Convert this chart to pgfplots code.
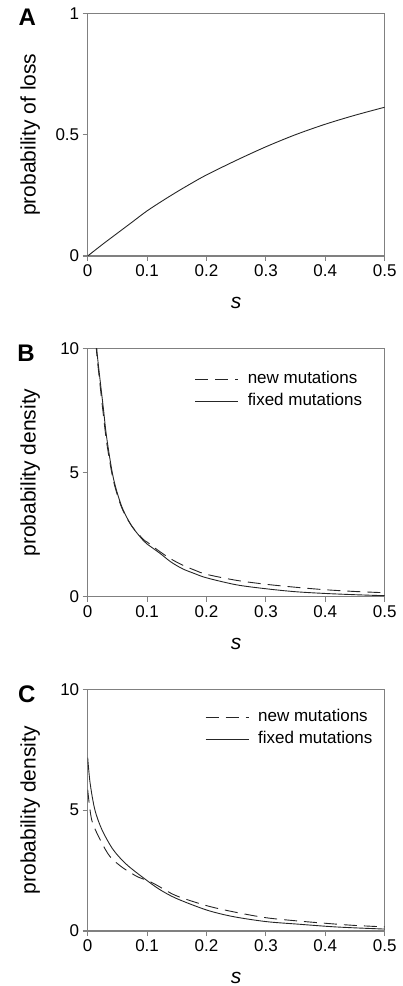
\documentclass[border=0pt]{standalone}
\usepackage{fontspec}
\setmainfont{Liberation Sans}
\usepackage{pgfplots}
\pgfplotsset{compat=1.18}

\pgfplotsset{
  panel/.style={
    scale only axis, width=297pt,
    xmin=0, xmax=0.5, ymin=0,
    clip mode=individual,
    xtick={0,0.1,0.2,0.3,0.4,0.5},
    xtick pos=left, ytick pos=left,
    tick align=outside, major tick length=5pt,
    axis line style={draw=black!50, line width=1.1pt},
    tick style={draw=black!50, line width=1.1pt},
    tick label style={font=\fontsize{17}{20}\selectfont},
    /pgf/number format/assume math mode=true,
    label style={font=\fontsize{21}{24}\selectfont},
    xlabel={\textit{s}},
    xlabel style={at={(axis description cs:0.5,0)}, anchor=center, yshift=-47pt},
    ylabel style={at={(axis description cs:0,0.5)}, anchor=center, yshift=57.5pt},
    legend cell align=left,
    legend style={draw=none, fill=none, anchor=north west,
                  font=\fontsize{17}{20}\selectfont, row sep=2pt,
                  nodes={inner sep=2pt, text height=12pt, text depth=4pt}},
    legend image code/.code={\draw[#1] (0pt,0pt) -- (43pt,0pt); \path (50pt,0pt);},
  },
}
\tikzset{
  curve/.style={black!85, line width=0.9pt, mark=none},
  newmut/.style={curve, dash pattern=on 13pt off 7pt},
  letter/.style={font=\bfseries\fontsize{24}{24}\selectfont, anchor=base},
}

\begin{document}
\begin{tikzpicture}
\path[use as bounding box] (0,0) rectangle (403pt,986pt);

% A
\begin{axis}[panel, at={(87.7pt,730pt)}, anchor=south west, height=242.7pt,
  ymax=1, ytick={0,0.5,1}, ylabel={probability of loss}]
\addplot[curve, smooth] coordinates {
  (0,0) (0.025,0.048) (0.05,0.094) (0.075,0.140) (0.1,0.186) (0.125,0.226)
  (0.15,0.264) (0.175,0.300) (0.2,0.334) (0.25,0.394) (0.3,0.450)
  (0.35,0.500) (0.4,0.543) (0.45,0.580) (0.5,0.613)};
\node[letter] at (axis description cs:-0.203,0.948) {A};
\end{axis}

% B
\begin{axis}[panel, at={(87.7pt,389.3pt)}, anchor=south west, height=248.4pt,
  ymax=10, ytick={0,5,10}, ylabel={probability density},
  legend style={at={(axis description cs:0.35,0.925)}}]
\addplot[newmut, smooth] coordinates {
  (0.0135,11) (0.0145,10) (0.02,8.7) (0.026,7.4) (0.032,6.2) (0.043,4.7)
  (0.057,3.6) (0.074,2.85) (0.094,2.3) (0.1,2.2)
  (0.12,1.84) (0.14,1.52) (0.16,1.27) (0.18,1.07) (0.2,0.90) (0.25,0.66)
  (0.3,0.50) (0.35,0.38) (0.4,0.28) (0.45,0.21) (0.5,0.16)};
\addlegendentry{new mutations}
\addplot[curve, smooth] coordinates {
  (0.0142,11) (0.0152,10) (0.02,8.9) (0.0263,7.6) (0.032,6.4) (0.043,4.8)
  (0.057,3.65) (0.074,2.85) (0.094,2.25) (0.1,2.12)
  (0.122,1.74) (0.14,1.40) (0.16,1.12) (0.18,0.93) (0.2,0.76) (0.25,0.48)
  (0.3,0.32) (0.35,0.20) (0.4,0.13) (0.45,0.08) (0.5,0.04)};
\addlegendentry{fixed mutations}
\node[letter] at (axis description cs:-0.208,0.945) {B};
\end{axis}

% C
\begin{axis}[panel, at={(87.7pt,55pt)}, anchor=south west, height=241.7pt,
  ymax=10, ytick={0,5,10}, ylabel={probability density},
  legend style={at={(axis description cs:0.385,0.935)}}]
\addplot[newmut, smooth] coordinates {
  (0,5.85) (0.0067,4.6) (0.021,3.78) (0.0375,3.08) (0.06,2.6) (0.085,2.23)
  (0.1,2.1) (0.116,1.9) (0.149,1.46) (0.2,1.05) (0.244,0.80)
  (0.3,0.55) (0.356,0.41) (0.41,0.30) (0.45,0.23) (0.5,0.17)};
\addlegendentry{new mutations}
\addplot[curve, smooth] coordinates {
  (0,7.17) (0.004,6.13) (0.012,5.02) (0.024,4.19) (0.043,3.36) (0.066,2.74)
  (0.097,2.14) (0.121,1.72) (0.149,1.35) (0.2,0.87) (0.244,0.60) (0.3,0.39)
  (0.356,0.28) (0.41,0.18) (0.45,0.13) (0.5,0.08)};
\addlegendentry{fixed mutations}
\node[letter] at (axis description cs:-0.205,0.947) {C};
\end{axis}
\end{tikzpicture}
\end{document}
